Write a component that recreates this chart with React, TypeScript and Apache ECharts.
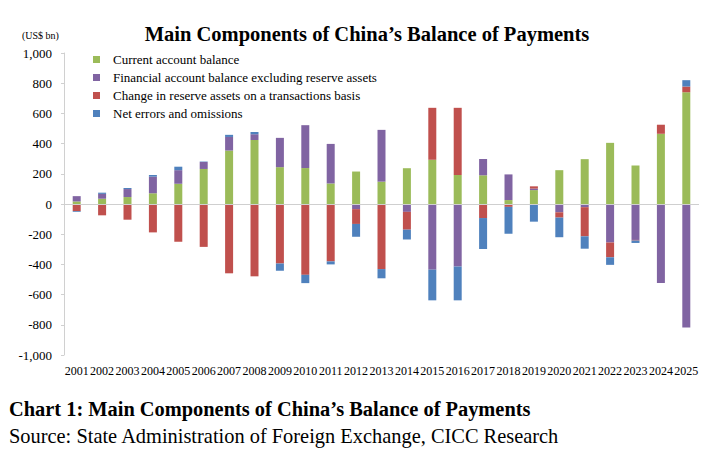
import React, { useEffect, useRef } from "react";
import * as echarts from "echarts";

const years = ["2001","2002","2003","2004","2005","2006","2007","2008","2009","2010","2011","2012","2013","2014","2015","2016","2017","2018","2019","2020","2021","2022","2023","2024","2025"];
const currentAccount = [17, 35, 46, 71, 134, 232, 354, 424, 244, 238, 136, 215, 148, 237, 293, 192, 190, 26, 92, 224, 297, 405, 255, 465, 740];
const financialAccount = [35, 32, 53, 110, 90, 46, 90, 38, 194, 284, 262, -34, 343, -52, -435, -414, 108, 170, 10, -55, -21, -255, -238, -523, -818];
const reserveChange = [-47, -75, -104, -188, -250, -284, -459, -479, -394, -469, -380, -98, -431, -118, 344, 445, -93, -19, 15, -35, -193, -98, -4, 60, 38];
const errorsOmissions = [-5, 8, 7, 11, 23, 3, 14, 15, -48, -55, -20, -85, -61, -65, -203, -224, -205, -178, -117, -130, -82, -50, -16, 0, 42];
const seriesNames = [
  "Current account balance",
  "Financial account balance excluding reserve assets",
  "Change in reserve assets on a transactions basis",
  "Net errors and omissions",
];
const colors = ["#9BBB59", "#8064A2", "#C0504D", "#4F81BD"];

const FONT = "Liberation Serif";

export default function App() {
  const ref = useRef<HTMLDivElement>(null);
  useEffect(() => {
    if (!ref.current) return;
    const chart = echarts.init(ref.current, null, { renderer: "svg" });
    const datasets = [currentAccount, financialAccount, reserveChange, errorsOmissions];
    const series: any[] = datasets.map((d, i) => ({
      name: seriesNames[i],
      type: "bar",
      stack: "bop",
      data: d,
      barWidth: 8,
      itemStyle: { color: colors[i] },
      ...(i === 0
        ? {
            markLine: {
              silent: true,
              symbol: "none",
              label: { show: false },
              lineStyle: { color: "#cfcfcf", type: "solid", width: 1 },
              data: [{ yAxis: 0 }],
            },
          }
        : {}),
    }));
    chart.setOption({
      animation: false,
      color: colors,
      textStyle: { fontFamily: FONT },
      title: {
        text: "Main Components of China\u2019s Balance of Payments",
        left: 362,
        top: 18,
        textAlign: "center",
        textStyle: { fontFamily: FONT, fontWeight: "bold", fontSize: 20.5, color: "#000" },
      },
      legend: {
        orient: "vertical",
        left: 88,
        top: 48,
        itemWidth: 7,
        itemHeight: 7,
        itemGap: 5,
        icon: "rect",
        textStyle: { fontFamily: FONT, fontSize: 13, color: "#000", padding: [0, 0, 0, 8] },
        data: seriesNames,
      },
      grid: { left: 64, right: 9, top: 53, bottom: 109, containLabel: false },
      xAxis: {
        type: "category",
        data: years,
        axisLine: { show: false, onZero: false },
        axisTick: { show: false },
        axisLabel: { fontFamily: FONT, fontSize: 12, color: "#000", margin: 10, interval: 0 },
      },
      yAxis: {
        type: "value",
        min: -1000,
        max: 1000,
        interval: 200,
        axisLine: { show: true, lineStyle: { color: "#d0d0d0" } },
        axisTick: { show: true, length: 3, lineStyle: { color: "#d0d0d0" } },
        splitLine: { show: false },
        axisLabel: {
          fontFamily: FONT,
          fontSize: 13,
          color: "#000",
          margin: 12,
          formatter: (v: number) => v.toLocaleString("en-US"),
        },
      },
      graphic: [
        {
          type: "text",
          left: 22,
          top: 30,
          style: { text: "(US$ bn)", fontFamily: FONT, fontSize: 10, fill: "#000" },
        },
        {
          type: "text",
          left: 9,
          top: 399,
          style: {
            text: "Chart 1: Main Components of China\u2019s Balance of Payments",
            fontFamily: FONT,
            fontWeight: "bold",
            fontSize: 20.4,
            fill: "#000",
          },
        },
        {
          type: "text",
          left: 9,
          top: 426,
          style: {
            text: "Source: State Administration of Foreign Exchange, CICC Research",
            fontFamily: FONT,
            fontSize: 20.4,
            fill: "#000",
          },
        },
      ],
      series,
    });
    return () => chart.dispose();
  }, []);
  return (
    <div
      ref={ref}
      style={{ position: "fixed", left: 0, top: 0, width: 708, height: 464, background: "#fff" }}
    />
  );
}
